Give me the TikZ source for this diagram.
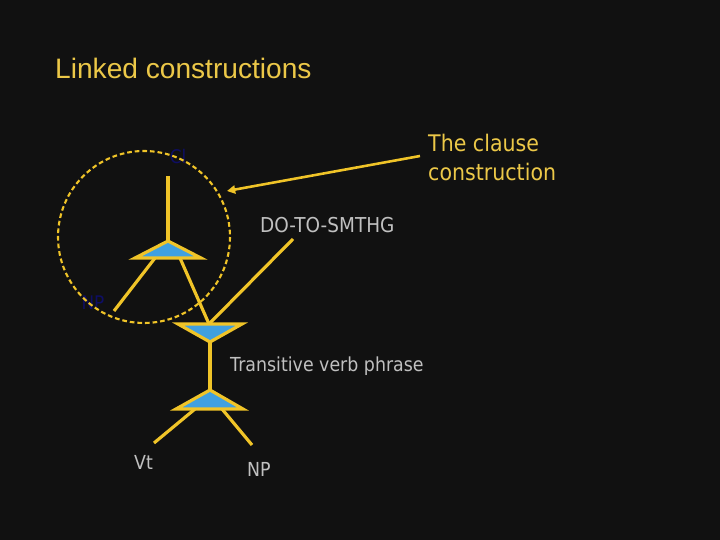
\documentclass[tikz,border=0pt]{standalone}
\usepackage{fontspec}
\usepackage{tikz}
\usetikzlibrary{arrows.meta}
\setmainfont{Liberation Sans}
\newfontfamily\tahomalike[FakeStretch=0.9]{DejaVu Sans}
\definecolor{bgdark}{RGB}{17,17,17}
\definecolor{linkyellow}{RGB}{240,196,40}
\definecolor{textyellow}{RGB}{236,200,72}
\definecolor{slotblue}{RGB}{64,160,224}
\definecolor{labelgray}{RGB}{192,192,192}
\definecolor{hiddennavy}{RGB}{14,14,100}

\begin{document}
\begin{tikzpicture}[x=0.03cm,y=-0.03cm]
\tikzstyle{link}=[draw=linkyellow,line width=2.7pt]
\tikzstyle{slot}=[draw=linkyellow,fill=slotblue,line width=2.7pt,line join=miter]
\tikzstyle{graylabel}=[text=labelgray,anchor=base west,inner sep=0pt,font=\tahomalike\fontsize{16.5}{20}\selectfont]
\tikzstyle{navylabel}=[text=hiddennavy,inner sep=0pt,font=\tahomalike\fontsize{16}{20}\selectfont]
\useasboundingbox (0,0) rectangle (720,540);
\fill[bgdark] (0,0) rectangle (720,540);
    % texts
    \node[text=textyellow,anchor=base west,inner sep=0pt,font=\fontsize{24}{28}\selectfont] (title) at (55,79) {Linked constructions};
    \node[text=textyellow,anchor=base west,inner sep=0pt,font=\tahomalike\fontsize{19.5}{24.7}\selectfont] (clause) at (428,152) {The clause};
    \node[text=textyellow,anchor=base west,inner sep=0pt,font=\tahomalike\fontsize{19.5}{24.7}\selectfont] (construction) at (428,181) {construction};
    \node[graylabel,font=\tahomalike\fontsize{17.5}{20}\selectfont] (dotosmthg) at (260,233) {DO-TO-SMTHG};
    \node[graylabel] (tvp) at (230,371) {Transitive verb phrase};
    \node[graylabel] (vt) at (134,469) {Vt};
    \node[graylabel] (np) at (247,476) {NP};
    \node[navylabel] (cl) at (178,157) {Cl};
    \node[navylabel] (npsubj) at (93,303) {NP};
    % points
    \coordinate (cltop) at (168,176);
    \coordinate (t1apex) at (168,241);
    \coordinate (t1left) at (135,258);
    \coordinate (t1right) at (201,258);
    \coordinate (subjleg) at (155,258);
    \coordinate (subjend) at (114,311);
    \coordinate (vpleg) at (180,258);
    \coordinate (t2left) at (178,324);
    \coordinate (t2right) at (242,324);
    \coordinate (t2top) at (209,324);
    \coordinate (t2apex) at (210,342);
    \coordinate (dostart) at (293,239);
    \coordinate (t3apex) at (210,390);
    \coordinate (t3left) at (176,409);
    \coordinate (t3right) at (243,409);
    \coordinate (vtleg) at (195,409);
    \coordinate (vtend) at (154,443);
    \coordinate (npleg) at (222,409);
    \coordinate (npend) at (252,445);
    \coordinate (arrowstart) at (420,156);
    \coordinate (arrowend) at (227,191);
    % clause circle
    \draw[linkyellow,line width=1.8pt,dash pattern=on 4pt off 2.5pt] (144,237) circle [radius=86];
    % connectors
    \path (cltop) edge [link] (t1apex);
    \path (subjleg) edge [link] (subjend);
    \path (vpleg) edge [link] (t2top);
    \path (dostart) edge [link] (t2top);
    \path (t2apex) edge [link] (t3apex);
    \path (vtleg) edge [link] (vtend);
    \path (npleg) edge [link] (npend);
    \path (arrowstart) edge [link,line width=2.2pt,-{Triangle[length=7pt,width=7pt]}] (arrowend);
    % slots
    \path[slot] (t1apex) -- (t1right) -- (t1left) -- cycle;
    \path[slot] (t2left) -- (t2right) -- (t2apex) -- cycle;
    \path[slot] (t3apex) -- (t3right) -- (t3left) -- cycle;
\end{tikzpicture}
\end{document}
